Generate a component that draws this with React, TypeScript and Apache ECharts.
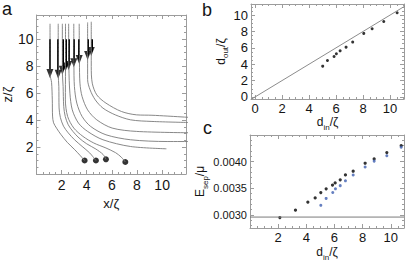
import React, { useEffect, useRef } from 'react';
import * as echarts from 'echarts';

// ---------- Panel a : trajectories ----------
const aTickLabels = [2, 4, 6, 8, 10];
const aArrowX = [1.07, 1.73, 2.06, 2.31, 2.56, 2.97, 3.4, 4.07, 4.36];
const aArrowTipY = [7.15, 7.1, 7.4, 7.65, 7.75, 7.95, 8.2, 8.5, 8.8];
const aShaftTopY = 10.0;
const aCurve1 = [[1.08, 11.15], [1.08, 7.4], [1.2, 6.8], [1.26, 5.5], [1.28, 4.3], [1.36, 3.8], [1.6, 3.4], [1.93, 2.95], [2.45, 2.35], [3.05, 1.8], [3.5, 1.35], [3.83, 1.0]];
const aCurve2 = [[1.73, 11.15], [1.73, 7.4], [1.78, 6.5], [1.8, 4.9], [1.9, 4.2], [2.15, 3.55], [2.53, 3.05], [3.02, 2.55], [3.63, 2.05], [4.24, 1.56], [4.73, 1.0]];
const aCurve3 = [[2.06, 11.15], [2.06, 7.6], [2.12, 6.5], [2.17, 5.0], [2.29, 4.27], [2.53, 3.65], [2.9, 3.16], [3.39, 2.67], [4.0, 2.24], [4.73, 1.85], [5.3, 1.45], [5.53, 1.09]];
const aCurve4 = [[2.31, 11.15], [2.31, 7.8], [2.3, 5.5], [2.48, 4.27], [2.97, 3.41], [3.7, 2.79], [4.56, 2.3], [5.53, 1.93], [6.3, 1.58], [6.75, 1.25], [7.07, 0.89]];
const aCurve5 = [[2.56, 11.15], [2.58, 7.9], [2.66, 6.0], [2.85, 4.76], [3.34, 3.78], [4.07, 3.16], [5.29, 2.54], [7.49, 2.04], [10.34, 1.87]];
const aCurve6 = [[2.97, 11.15], [2.98, 8.1], [3.02, 6.49], [3.21, 5.26], [3.63, 4.27], [4.31, 3.53], [5.53, 2.91], [7.49, 2.54], [10.4, 2.41], [12.2, 2.41]];
const aCurve7 = [[3.4, 11.15], [3.42, 8.3], [3.46, 6.74], [3.63, 5.75], [4.07, 4.76], [4.8, 4.02], [6.02, 3.41], [7.97, 3.16], [12.2, 3.06]];
const aCurve8 = [[4.07, 11.25], [4.07, 8.6], [4.07, 7.0], [4.27, 6.24], [4.68, 5.5], [5.29, 4.89], [6.27, 4.39], [7.49, 4.02], [9.19, 3.9], [12.2, 3.82]];
const aCurve9 = [[4.36, 11.3], [4.36, 8.9], [4.36, 7.97], [4.44, 6.74], [4.8, 5.87], [5.53, 5.26], [6.76, 4.64], [7.97, 4.39], [9.19, 4.36], [10.4, 4.3], [12.2, 4.2]];
const aCurves = [aCurve1, aCurve2, aCurve3, aCurve4, aCurve5, aCurve6, aCurve7, aCurve8, aCurve9];
const aEndDotX = [3.83, 4.73, 5.53, 7.07];
const aEndDotY = [1.0, 1.0, 1.09, 0.89];

// ---------- Panel b : d_out vs d_in ----------
const bTickLabels = [0, 2, 4, 6, 8, 10];
const bDin = [5.01, 5.36, 5.85, 6.02, 6.3, 6.74, 7.23, 8.05, 8.67, 9.53, 10.52];
const bDout = [3.76, 4.45, 4.94, 5.27, 5.63, 6.08, 6.7, 7.76, 8.33, 9.22, 10.28];
const bIdentity = [[-0.3, -0.3], [11.3, 11.3]];

// ---------- Panel c : E_sep vs d_in ----------
const cXTickLabels = [2, 4, 6, 8, 10];
const cYTickLabels = [0.003, 0.0035, 0.004];
const cBlackX = [2.12, 3.23, 4.11, 4.63, 5.03, 5.41, 5.86, 6.05, 6.41, 6.78, 7.33, 8.18, 8.82, 9.72, 10.74];
const cBlackY = [0.00295, 0.00309, 0.00324, 0.00332, 0.00342, 0.00349, 0.00356, 0.0036, 0.00366, 0.00375, 0.00382, 0.00397, 0.00405, 0.00417, 0.0043];
const cBlueX = [5.03, 5.41, 5.88, 6.07, 6.41, 6.78, 7.33, 8.18, 8.82, 9.72, 10.74];
const cBlueY = [0.00318, 0.00331, 0.00342, 0.00349, 0.00355, 0.00364, 0.00375, 0.0039, 0.00401, 0.00411, 0.00427];
const cReferenceY = 0.00296;

const FONT = '"Liberation Sans", Arial, sans-serif';
const FRAME = '#9c9c9c';
const TEXT = '#151515';
const CURVE = '#7a7a7a';

function steps(min: number, max: number, step: number, skip: number[]) {
  const out: number[] = [];
  for (let v = Math.ceil(min / step) * step; v <= max + 1e-12; v += step) {
    const r = Math.round(v / step) * step;
    if (!skip.some((s) => Math.abs(s - r) < step / 10)) out.push(r);
  }
  return out;
}

function axisSet(dim: 'x' | 'y', grid: number, min: number, max: number, majors: number[], minorStep: number, label: any, name: any) {
  const minors = steps(min, max, minorStep, majors);
  const base = (position: string) => ({
    type: 'value', gridIndex: grid, position, min, max,
    splitLine: { show: false },
    axisLine: { show: true, onZero: false, lineStyle: { color: FRAME, width: 1 } },
    axisTick: { show: true, inside: true, length: 4, customValues: majors, lineStyle: { color: FRAME } },
    axisLabel: { show: false },
  });
  const minor = (position: string) => ({
    ...base(position),
    axisLine: { show: false, onZero: false },
    axisTick: { show: true, inside: true, length: 2, customValues: minors, lineStyle: { color: FRAME } },
  });
  const p1 = dim === 'x' ? 'bottom' : 'left';
  const p2 = dim === 'x' ? 'top' : 'right';
  return [
    {
      ...base(p1),
      axisLabel: { show: true, fontFamily: FONT, color: TEXT, ...label },
      ...name,
    },
    minor(p1),
    base(p2),
    minor(p2),
  ];
}

const subRich = (size: number) => ({
  t: { fontSize: size, fontFamily: FONT, color: TEXT, lineHeight: 18 },
  s: { fontSize: 8, fontFamily: FONT, color: TEXT, lineHeight: 8, verticalAlign: 'bottom' },
});

export default function App() {
  const ref = useRef<HTMLDivElement>(null);
  useEffect(() => {
    if (!ref.current) return;
    const chart = echarts.init(ref.current, null, { renderer: 'svg' });
    const aMajors = [0, ...aTickLabels];
    const xAxis = [
      ...axisSet('x', 0, 0, 11.9, aMajors, 0.5, { customValues: aTickLabels, fontSize: 14, margin: 4 },
        { name: 'x/ζ', nameLocation: 'middle', nameGap: 19, nameTextStyle: { fontFamily: FONT, fontSize: 13, color: TEXT } }),
      ...axisSet('x', 1, -0.3, 11.03, bTickLabels, 0.5, { customValues: bTickLabels, fontSize: 13, margin: 3 },
        { name: '{t|d}{s|in}{t|/ζ}', nameLocation: 'middle', nameGap: 14, nameTextStyle: { rich: subRich(12) } }),
      ...axisSet('x', 2, 0, 10.94, [0, ...cXTickLabels], 0.5, { customValues: cXTickLabels, fontSize: 13, margin: 3 },
        { name: '{t|d}{s|in}{t|/ζ}', nameLocation: 'middle', nameGap: 15, nameTextStyle: { rich: subRich(12) } }),
    ];
    const yAxis = [
      ...axisSet('y', 0, 0, 11.8, aMajors, 0.5, { customValues: aTickLabels, fontSize: 14, margin: 3 },
        { name: 'z/ζ', nameLocation: 'middle', nameGap: 17, nameTextStyle: { fontFamily: FONT, fontSize: 13, color: TEXT } }),
      ...axisSet('y', 1, -0.25, 11.35, bTickLabels, 0.5, { customValues: bTickLabels, fontSize: 13, margin: 3 },
        { name: '{t|d}{s|out}{t|/ζ}', nameLocation: 'middle', nameGap: 4, nameTextStyle: { rich: subRich(12) } }),
      ...axisSet('y', 2, 0.002755, 0.0045, cYTickLabels, 0.0001, {
        customValues: cYTickLabels, fontSize: 11, margin: 3, formatter: (v: number) => v.toFixed(4),
      }, { name: '{t|E}{s|sep}{t|/μ}', nameLocation: 'middle', nameGap: 30, nameTextStyle: { rich: subRich(12) } }),
    ];

    const headLen = 0.3;
    const series: any[] = [];
    aCurves.forEach((c, i) => {
      series.push({
        type: 'line', name: 'trajectory ' + (i + 1), xAxisIndex: 0, yAxisIndex: 0, data: c,
        showSymbol: false, smooth: 0.3, lineStyle: { color: CURVE, width: 0.9 }, silent: true,
      });
    });
    series.push({
      type: 'lines', coordinateSystem: 'cartesian2d', xAxisIndex: 0, yAxisIndex: 0,
      data: aArrowX.map((x, i) => ({ coords: [[x, aShaftTopY], [x, aArrowTipY[i] + headLen]] })),
      lineStyle: { color: '#000', width: 2, opacity: 1 }, symbol: ['none', 'none'],
    });
    series.push({
      type: 'scatter', xAxisIndex: 0, yAxisIndex: 0,
      data: aArrowX.map((x, i) => [x, aArrowTipY[i] + headLen]),
      symbol: 'triangle', symbolRotate: 180, symbolSize: [7, 9], itemStyle: { color: '#000' },
    });
    series.push({
      type: 'scatter', xAxisIndex: 0, yAxisIndex: 0,
      data: aEndDotX.map((x, i) => [x, aEndDotY[i]]),
      symbol: 'circle', symbolSize: 6, itemStyle: { color: '#000' },
    });
    // b
    series.push({
      type: 'line', xAxisIndex: 4, yAxisIndex: 4, data: bIdentity, showSymbol: false,
      lineStyle: { color: '#8c8c8c', width: 1 },
    });
    series.push({
      type: 'scatter', xAxisIndex: 4, yAxisIndex: 4, data: bDin.map((x, i) => [x, bDout[i]]),
      symbolSize: 3, itemStyle: { color: '#000' },
    });
    // c
    series.push({
      type: 'line', xAxisIndex: 8, yAxisIndex: 8, data: [[0, cReferenceY], [10.94, cReferenceY]], showSymbol: false,
      lineStyle: { color: '#7a7a7a', width: 1 },
    });
    series.push({
      type: 'scatter', xAxisIndex: 8, yAxisIndex: 8, data: cBlackX.map((x, i) => [x, cBlackY[i]]),
      symbolSize: 3.2, itemStyle: { color: '#000' },
    });
    series.push({
      type: 'scatter', xAxisIndex: 8, yAxisIndex: 8, data: cBlueX.map((x, i) => [x, cBlueY[i]]),
      symbolSize: 3, itemStyle: { color: '#3f5fb0' },
    });

    chart.setOption({
      animation: false,
      backgroundColor: '#fff',
      grid: [
        { left: 24, top: 15, width: 162, height: 159 },
        { left: 251, top: 4, width: 153, height: 95 },
        { left: 250, top: 135, width: 154, height: 96 },
      ],
      xAxis,
      yAxis,
      series,
      graphic: [
        { type: 'text', left: 2, top: 0, style: { text: 'a', font: `18px ${FONT}`, fill: TEXT } },
        { type: 'text', left: 202, top: 1, style: { text: 'b', font: `18px ${FONT}`, fill: TEXT } },
        { type: 'text', left: 203, top: 119, style: { text: 'c', font: `18px ${FONT}`, fill: TEXT } },
      ],
    });
    return () => chart.dispose();
  }, []);
  return <div ref={ref} style={{ position: 'fixed', left: 0, top: 0, width: 407, height: 262 }} />;
}
